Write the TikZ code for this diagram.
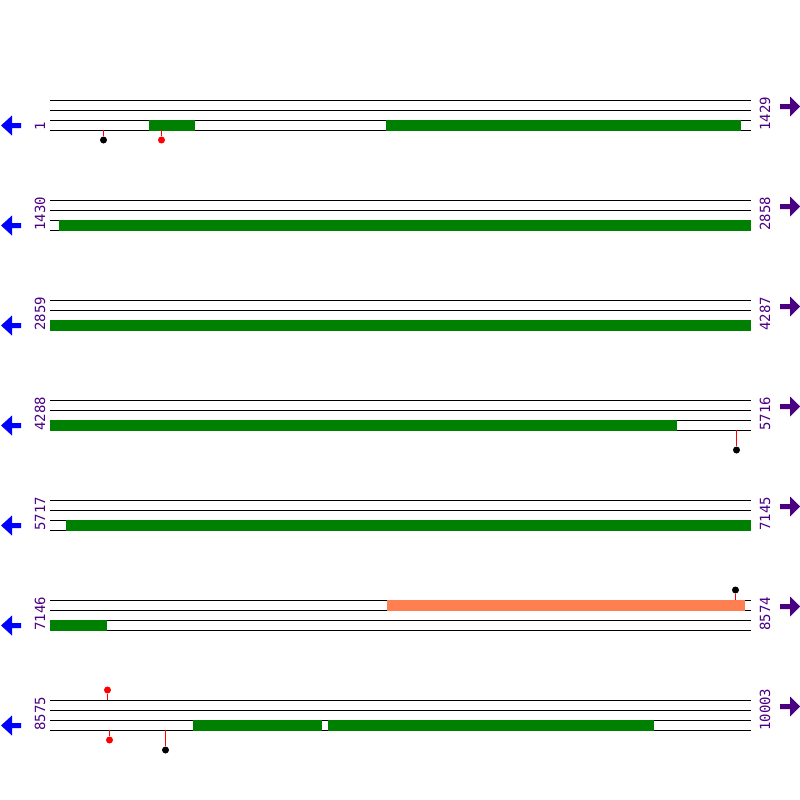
\documentclass[tikz,border=0pt]{standalone}
\usepackage{fontspec}
\setmonofont{DejaVu Sans Mono}
\usetikzlibrary{positioning,arrows.meta}
\definecolor{cdsgreen}{RGB}{0,128,0}
\definecolor{orfcoral}{RGB}{255,127,80}
\definecolor{seqindigo}{RGB}{75,0,130}

\tikzset{
	track/.style={black,line width=1pt},
	numlabel/.style={rotate=90,anchor=west,inner sep=0pt,text=seqindigo,
		font=\ttfamily\fontsize{14}{14}\selectfont},
	lolli/.style={circle,fill=#1,inner sep=0pt,minimum size=7pt},
	lollistem/.style={red,line width=1pt}
}

\begin{document}
\begin{tikzpicture}[x=1pt,y=-1pt]
	
	\useasboundingbox (0,0) rectangle (800,800);
	
	% tracks, strand arrows and positions
	\foreach \r/\lft/\rgt [evaluate=\r as \y using \r*100] in
		{1/1/1429, 2/1430/2858, 3/2859/4287, 4/4288/5716,
		 5/5717/7145, 6/7146/8574, 7/8575/10003}
	{
		\foreach \k in {0,10,20,30}
		\draw[track] (50,\y+\k) -- (751,\y+\k);
		
		\fill[blue]
		(1,\y+25.5) -- (12,\y+15.5) -- (12,\y+23) -- (21,\y+23)
		-- (21,\y+28) -- (12,\y+28) -- (12,\y+35.5) -- cycle;
		
		\fill[seqindigo]
		(800,\y+6.5) -- (790,\y-3.5) -- (790,\y+4) -- (780,\y+4)
		-- (780,\y+9) -- (790,\y+9) -- (790,\y+16.5) -- cycle;
		
		\node[numlabel] (left\r) at (40,\y+31) {\lft};
		\node[numlabel] (right\r) at (765,\y+31) {\rgt};
	}
	
	% coding regions
	\foreach \a/\b/\t in {149/195/119.5, 386/741/119.5, 59/751/219.5,
		50/751/319.5, 50/677/419.5, 66/751/519.5, 50/107/619.5,
		193/322/719.5, 328/654/719.5}
	\fill[cdsgreen] (\a,\t) rectangle (\b,\t+11);
	
	\fill[orfcoral]
	(387,599.5) rectangle (745,610.5);
	
	% variant markers
	\foreach \n/\x/\t/\d/\c in {a/103.5/130/140/black, b/161.5/130/140/red,
		c/736.5/430/450/black, d/735.5/600/590/black, e/107.5/700/690/red,
		f/109.5/730/740/red, g/165.5/730/750/black}
	{
		\coordinate (base\n) at (\x,\t);
		\node[lolli=\c] (dot\n) at (\x,\d) {};
		\draw[lollistem] (base\n) -- (dot\n);
	}
	
\end{tikzpicture}
\end{document}
